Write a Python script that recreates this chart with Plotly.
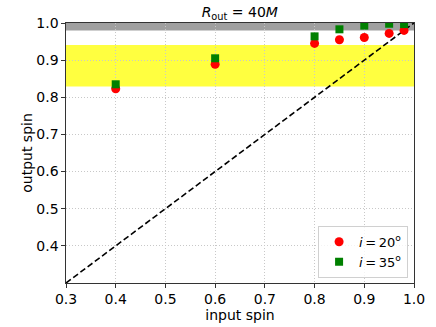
import plotly.graph_objects as go

input_spin = [0.4, 0.6, 0.8, 0.85, 0.9, 0.95, 0.98]
out_i20 = [0.823, 0.889, 0.945, 0.955, 0.961, 0.972, 0.980]
out_i35 = [0.835, 0.905, 0.964, 0.983, 0.993, 0.998, 0.997]
diag = [0.3, 1.0]
yellow_band = [0.829, 0.941]
gray_band = [0.98, 1.0]
x_ticks = [0.3, 0.4, 0.5, 0.6, 0.7, 0.8, 0.9, 1.0]
y_ticks = [0.4, 0.5, 0.6, 0.7, 0.8, 0.9, 1.0]

fig = go.Figure()
fig.add_hrect(y0=yellow_band[0], y1=yellow_band[1], fillcolor="rgb(255,255,64)", opacity=1, line_width=0, layer="below")
fig.add_hrect(y0=gray_band[0], y1=gray_band[1], fillcolor="rgb(160,160,160)", opacity=1, line_width=0, layer="below")
fig.add_trace(go.Scatter(x=diag, y=diag, mode="lines", line=dict(color="black", dash="6px,3px", width=1.6), showlegend=False))
fig.add_trace(go.Scatter(x=input_spin, y=out_i20, mode="markers", name="<i>i</i>\u2009=\u200920<sup>o</sup>",
                         marker=dict(color="red", symbol="circle", size=9)))
fig.add_trace(go.Scatter(x=input_spin, y=out_i35, mode="markers", name="<i>i</i>\u2009=\u200935<sup>o</sup>",
                         marker=dict(color="green", symbol="square", size=8)))

axis_common = dict(showline=True, linecolor="#333333", linewidth=1.3, mirror=True, ticks="outside",
                   ticklen=3.5, tickcolor="#333333", showgrid=True, gridcolor="#c8c8c8", griddash="1px,2px",
                   gridwidth=1, zeroline=False, tickfont=dict(size=14, color="black"), automargin=False)
fig.update_xaxes(range=[0.3, 1.0], tickvals=x_ticks, tickformat=".1f",
                 title=dict(text="input spin", font=dict(size=14, color="black"), standoff=1), **axis_common)
fig.update_yaxes(range=[0.3, 1.0], tickvals=y_ticks, tickformat=".1f",
                 title=dict(text="output spin", font=dict(size=14, color="black"), standoff=0), **axis_common)

fig.update_layout(
    width=436, height=327,
    margin=dict(l=66, r=22, t=23, b=44),
    plot_bgcolor="white", paper_bgcolor="white",
    font=dict(family="DejaVu Sans", size=14, color="black"),
    title=dict(text="<i>R</i><sub>out</sub> = 40<i>M</i>", x=0.55, xanchor="center", y=0.963, yanchor="middle",
               font=dict(size=14)),
    legend=dict(x=0.983, y=0.02, xanchor="right", yanchor="bottom", bordercolor="#d0d0d0", borderwidth=1,
                bgcolor="rgba(255,255,255,0.8)", font=dict(size=13), itemwidth=30, tracegroupgap=0),
)
fig.write_html("out.html", config={"displayModeBar": False},
               post_script="document.body.style.margin='0';document.body.style.overflow='hidden';")
